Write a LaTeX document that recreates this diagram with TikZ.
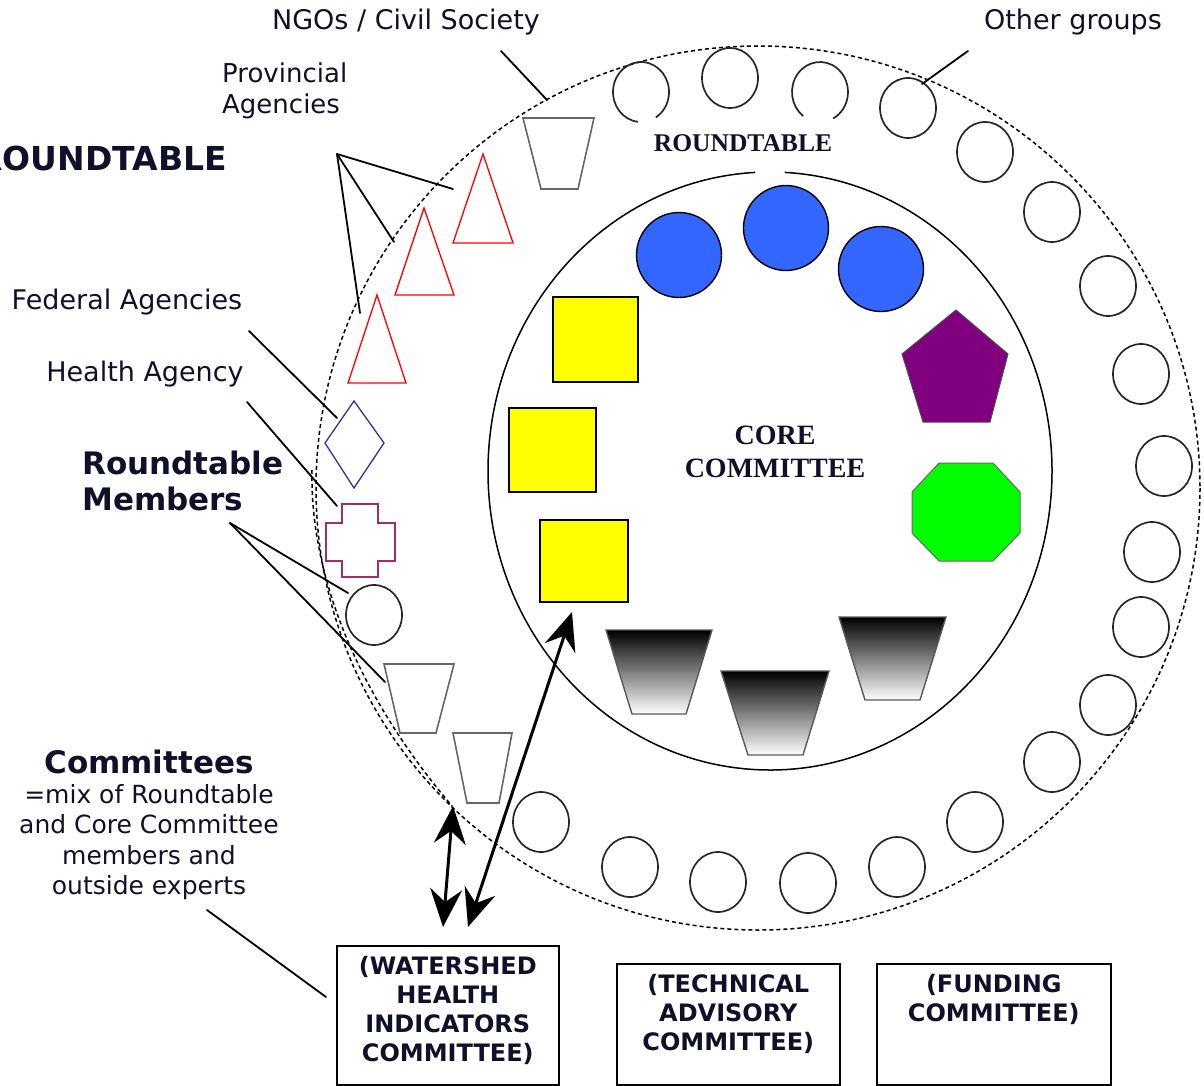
\documentclass[tikz,border=0pt]{standalone}
\usepackage{fontspec}
\setmainfont{DejaVu Sans}
\newfontfamily\cambria{Liberation Serif}
\usetikzlibrary{arrows.meta}

\definecolor{coreblue}{HTML}{3366FF}
\definecolor{corepurple}{HTML}{800080}
\definecolor{coregreen}{HTML}{00FF00}
\definecolor{coreyellow}{HTML}{FFFF00}
\definecolor{fedblue}{HTML}{333399}
\definecolor{healthred}{HTML}{993366}
\definecolor{ink}{HTML}{10102A}

\tikzset{
  seat/.style={draw=black!85, line width=1.7pt},
  ringline/.style={line width=1.5pt, dash pattern=on 4pt off 3pt},
  lbl/.style={inner sep=0pt, text=ink, font=\fontsize{27}{31}\selectfont},
  bigbold/.style={inner sep=0pt, text=ink, font=\fontsize{31}{36}\selectfont\bfseries},
  corelbl/.style={inner sep=0pt, text=ink, font=\cambria\fontsize{26}{33}\selectfont\bfseries, align=center},
  leader/.style={line width=1.8pt, line cap=round},
  cmtbox/.style={draw, line width=1.6pt, anchor=north west, minimum height=139pt},
  cmtlbl/.style={inner sep=0pt, text=ink, font=\fontsize{24}{29}\selectfont\bfseries, align=center, anchor=north},
  twoway/.style={line width=3pt, {Stealth[length=38pt,width=32pt,inset=13pt]}-{Stealth[length=38pt,width=32pt,inset=13pt]}}
}

\begin{document}
\begin{tikzpicture}[x=1pt, y=-1pt]
  %tikz  roundtable and core committee
  \useasboundingbox (0,0) rectangle (1204,1086);
  \clip (0,0) rectangle (1204,1086);
  \def\seatrx{28}
  \def\seatry{30}

  % roundtable ring
  \draw[ringline] (758,488) circle [x radius=442, y radius=442];
  \draw[ringline] (312,470) .. controls (310,560) and (345,680) .. (452,806);

  % core committee
  \draw[line width=1.5pt] ([shift={(273:282 and 299)}]770,471)
    arc [start angle=273, end angle=627, x radius=282, y radius=299];

  % roundtable seats
  \foreach \p in {(730,78),(908,108),(985,152),(1052,212),(1108,286),(1141,374),
                  (1164,466),(1152,552),(1141,627),(1108,705),(1052,762),(975,822),
                  (897,867),(808,883),(718,882),(630,867),(541,822),(374,615)}
    \draw[seat] \p ellipse [x radius=\seatrx, y radius=\seatry];
  \draw[seat] ([shift={(96:28 and 30)}]641,92)
    arc [start angle=96, end angle=418, x radius=\seatrx, y radius=\seatry];
  \draw[seat] ([shift={(127:28 and 30)}]820,92)
    arc [start angle=127, end angle=422, x radius=\seatrx, y radius=\seatry];

  % NGOs
  \draw[draw=gray!80!black, line width=1.6pt] (523,118) -- (594,118) -- (578,189) -- (541,189) -- cycle;
  \draw[draw=gray!80!black, line width=1.6pt] (384,664) -- (454,664) -- (436,733) -- (400,733) -- cycle;
  \draw[draw=gray!80!black, line width=1.6pt] (453,733) -- (512,733) -- (499,803) -- (467,803) -- cycle;

  % provincial agencies
  \draw[red, line width=1.3pt] (483,154) -- (513,243) -- (453,243) -- cycle;
  \draw[red, line width=1.3pt] (424,208) -- (454,295) -- (395,295) -- cycle;
  \draw[red, line width=1.3pt] (377,295) -- (406,383) -- (348,383) -- cycle;

  % federal and health agencies
  \draw[fedblue, line width=1.3pt] (354,401) -- (384,443) -- (354,488) -- (325,443) -- cycle;
  \draw[healthred, line width=1.5pt] (342,504) -- (378,504) -- (378,523) -- (395,523) -- (395,561)
    -- (378,561) -- (378,577) -- (342,577) -- (342,561) -- (326,561) -- (326,523) -- (342,523) -- cycle;

  % core members
  \filldraw[fill=coreyellow, line width=1.6pt] (553,297) rectangle (638,382);
  \filldraw[fill=coreyellow, line width=1.6pt] (509,408) rectangle (596,492);
  \filldraw[fill=coreyellow, line width=1.6pt] (540,520) rectangle (628,602);
  \filldraw[fill=coreblue, line width=1.4pt] (679,255) circle [radius=42.5];
  \filldraw[fill=coreblue, line width=1.4pt] (786,228) circle [radius=42.5];
  \filldraw[fill=coreblue, line width=1.4pt] (881,269) circle [radius=42.5];
  \filldraw[fill=corepurple, draw=black!70, line width=1pt]
    (956,310) -- (1008,354) -- (990,422) -- (923,422) -- (902,354) -- cycle;
  \filldraw[fill=coregreen, draw=black!60, line width=1pt]
    (939,463) -- (993,463) -- (1020,492) -- (1020,533) -- (993,561) -- (939,561) -- (912,533) -- (912,492) -- cycle;
  \shadedraw[top color=black, bottom color=white, draw=gray!70!black, line width=1.4pt]
    (606,630) -- (712,630) -- (686,714) -- (632,714) -- cycle;
  \shadedraw[top color=black, bottom color=white, draw=gray!70!black, line width=1.4pt]
    (721,671) -- (829,671) -- (803,755) -- (748,755) -- cycle;
  \shadedraw[top color=black, bottom color=white, draw=gray!70!black, line width=1.4pt]
    (839,617) -- (946,617) -- (920,700) -- (865,700) -- cycle;

  % labels
  \node[lbl] (ngo) at (406,22) {NGOs / Civil Society};
  \node[lbl] (other) at (1073,22) {Other groups};
  \node[lbl, anchor=west, align=left, font=\fontsize{26}{31}\selectfont] (prov) at (222,91) {Provincial\\Agencies};
  \node[inner sep=0pt, text=ink, anchor=east, font=\fontsize{33}{38}\selectfont\bfseries] (rtout) at (227,158) {ROUNDTABLE};
  \node[lbl] (fed) at (127,302) {Federal Agencies};
  \node[lbl] (health) at (145,374) {Health Agency};
  \node[bigbold, anchor=west, align=left] (members) at (82,481) {Roundtable\\Members};
  \node[bigbold] (cmt) at (149,762) {Committees};
  \node[lbl, align=center, font=\fontsize{25}{30.5}\selectfont] (mix) at (149,842)
    {=mix of Roundtable\\and Core Committee\\members and\\outside experts};
  \node[corelbl, font=\cambria\fontsize{25.5}{33}\selectfont\bfseries] (rt) at (743,143) {ROUNDTABLE};
  \node[corelbl, font=\cambria\fontsize{28}{33}\selectfont\bfseries] (core) at (775,452) {CORE\\COMMITTEE};

  % committees
  \node[cmtbox, minimum width=222pt] (whc) at (336,945) {};
  \node[cmtbox, minimum width=223pt, minimum height=121pt] (tac) at (616,963) {};
  \node[cmtbox, minimum width=234pt, minimum height=121pt] (fund) at (876,963) {};
  \node[cmtlbl] (whct) at ([yshift=-11pt]whc.north) {(WATERSHED\\HEALTH\\INDICATORS\\COMMITTEE)};
  \node[cmtlbl] (tact) at ([yshift=-11pt]tac.north) {(TECHNICAL\\ADVISORY\\COMMITTEE)};
  \node[cmtlbl] (fundt) at ([yshift=-11pt]fund.north) {(FUNDING\\COMMITTEE)};

  % leaders
  \coordinate(N1) at (501,51);   \coordinate(N2) at (547,100);
  \coordinate(O1) at (968,51);   \coordinate(O2) at (922,84);
  \coordinate(P) at (337,154);
  \coordinate(F1) at (249,331);  \coordinate(F2) at (337,418);
  \coordinate(H1) at (247,402);  \coordinate(H2) at (337,506);
  \coordinate(M) at (230,523);
  \coordinate(C1) at (207,910);  \coordinate(C2) at (326,997);
  \draw[leader] (N1) -- (N2);
  \draw[leader] (O1) -- (O2);
  \draw[leader] (P) -- (453,189);
  \draw[leader] (P) -- (394,242);
  \draw[leader] (P) -- (360,313);
  \draw[leader] (F1) -- (F2);
  \draw[leader] (H1) -- (H2);
  \draw[leader] (M) -- (348,593);
  \draw[leader] (M) -- (385,682);
  \draw[leader] (C1) -- (C2);

  % arrows
  \coordinate(A1) at (443,927);  \coordinate(A2) at (453,806);
  \coordinate(B1) at (468,927);  \coordinate(B2) at (572,612);
  \draw[twoway] (A1) -- (A2);
  \draw[twoway] (B1) -- (B2);
\end{tikzpicture}
\end{document}
